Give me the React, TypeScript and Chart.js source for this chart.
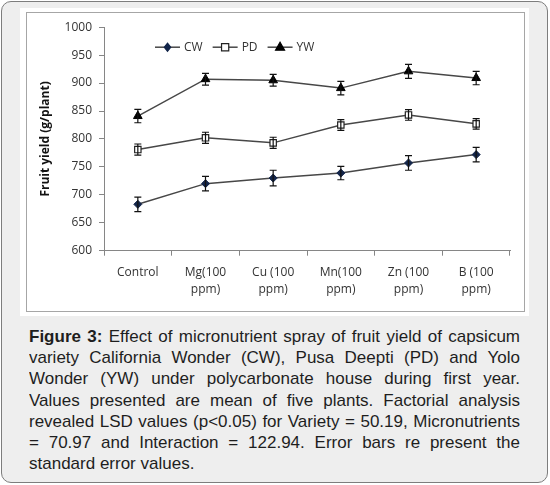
import React, { useEffect, useLayoutEffect, useRef } from "react";
import { Chart, registerables } from "chart.js";

Chart.register(...registerables);

const categories: string[][] = [
  ["Control"],
  ["Mg(100", "ppm)"],
  ["Cu (100", "ppm)"],
  ["Mn(100", "ppm)"],
  ["Zn (100", "ppm)"],
  ["B (100", "ppm)"],
];
const cwValues = [683, 720, 730, 739, 757, 772];
const pdValues = [781, 802, 793, 825, 843, 827];
const ywValues = [841, 907, 905, 891, 921, 909];
const cwErr = [13, 13, 14, 12, 13, 13];
const pdErr = [10, 10, 10, 9.5, 9.5, 9.5];
const ywErr = [12, 10.5, 10.5, 12, 12.5, 12];
const seriesNames = ["CW", "PD", "YW"];
const yMin = 600;
const yMax = 1000;
const yStep = 50;
const yTitle = "Fruit yield (g/plant)";

const captionLines = [
  "Effect of micronutrient spray of fruit yield of capsicum",
  "variety California Wonder (CW), Pusa Deepti (PD) and Yolo",
  "Wonder (YW) under polycarbonate house during first year.",
  "Values presented are mean of five plants. Factorial analysis",
  "revealed LSD values (p<0.05) for Variety = 50.19, Micronutrients",
  "= 70.97 and Interaction = 122.94. Error bars re present the",
  "standard error values.",
];

const FONT = "'Open Sans', 'DejaVu Sans', sans-serif";
const LINE = "#474747";
const errors = [cwErr, pdErr, ywErr];

const errorBarPlugin = {
  id: "errorBars",
  afterDatasetsDraw(chart: any) {
    const ctx = chart.ctx;
    const y = chart.scales.y;
    ctx.save();
    ctx.strokeStyle = "#111";
    ctx.lineWidth = 1.2;
    chart.data.datasets.forEach((ds: any, di: number) => {
      const meta = chart.getDatasetMeta(di);
      meta.data.forEach((pt: any, i: number) => {
        const v = ds.data[i];
        const e = errors[di][i];
        const top = y.getPixelForValue(v + e);
        const bot = y.getPixelForValue(v - e);
        const x = pt.x;
        ctx.beginPath();
        ctx.moveTo(x, top);
        ctx.lineTo(x, bot);
        ctx.moveTo(x - 3.5, top);
        ctx.lineTo(x + 3.5, top);
        ctx.moveTo(x - 3.5, bot);
        ctx.lineTo(x + 3.5, bot);
        ctx.stroke();
      });
    });
    ctx.restore();
  },
};

const legendPlugin = {
  id: "inlineLegend",
  afterDraw(chart: any) {
    const ctx = chart.ctx;
    const area = chart.chartArea;
    let x = area.left + 51;
    const y = area.top + 20;
    ctx.save();
    ctx.font = `12px ${FONT}`;
    ctx.textBaseline = "middle";
    ctx.fillStyle = "#333";
    chart.data.datasets.forEach((ds: any) => {
      const lineLen = 25;
      ctx.strokeStyle = LINE;
      ctx.lineWidth = 1.5;
      ctx.beginPath();
      ctx.moveTo(x, y);
      ctx.lineTo(x + lineLen, y);
      ctx.stroke();
      const cx = x + lineLen / 2;
      ctx.fillStyle = ds.pointBackgroundColor;
      ctx.strokeStyle = ds.pointBorderColor;
      ctx.lineWidth = 1.2;
      ctx.beginPath();
      const r = ds.pointRadius;
      if (ds.pointStyle === "rectRot") {
        ctx.moveTo(cx, y - r);
        ctx.lineTo(cx + r * 0.8, y);
        ctx.lineTo(cx, y + r);
        ctx.lineTo(cx - r * 0.8, y);
        ctx.closePath();
      } else if (ds.pointStyle === "rect") {
        ctx.rect(cx - r * 0.8, y - r * 0.8, r * 1.6, r * 1.6);
      } else {
        ctx.moveTo(cx, y - r);
        ctx.lineTo(cx + r * 0.9, y + r * 0.6);
        ctx.lineTo(cx - r * 0.9, y + r * 0.6);
        ctx.closePath();
      }
      ctx.fill();
      ctx.stroke();
      ctx.fillStyle = "#333";
      const tx = x + lineLen + 4;
      ctx.fillText(ds.label, tx, y);
      x = tx + ctx.measureText(ds.label).width + 10;
    });
    ctx.restore();
  },
};

function ChartBox() {
  const ref = useRef<HTMLCanvasElement>(null);
  useEffect(() => {
    if (!ref.current) return;
    const chart = new Chart(ref.current, {
      type: "line",
      data: {
        labels: categories,
        datasets: [
          {
            label: seriesNames[0],
            data: cwValues,
            borderColor: LINE,
            borderWidth: 1.5,
            pointStyle: "rectRot",
            pointRadius: 4,
            pointBackgroundColor: "#13254a",
            pointBorderColor: "#13254a",
            pointBorderWidth: 1,
            tension: 0,
          },
          {
            label: seriesNames[1],
            data: pdValues,
            borderColor: LINE,
            borderWidth: 1.5,
            pointStyle: "rect",
            pointRadius: 4.5,
            pointBackgroundColor: "#ffffff",
            pointBorderColor: "#222",
            pointBorderWidth: 1.2,
            tension: 0,
          },
          {
            label: seriesNames[2],
            data: ywValues,
            borderColor: LINE,
            borderWidth: 1.5,
            pointStyle: "triangle",
            pointRadius: 5,
            pointBackgroundColor: "#000",
            pointBorderColor: "#000",
            pointBorderWidth: 1,
            tension: 0,
          },
        ] as any,
      },
      options: {
        animation: false,
        responsive: false,
        events: [],
        layout: { padding: { left: 0, top: 14, right: 14, bottom: 0 } },
        plugins: { legend: { display: false }, tooltip: { enabled: false } },
        scales: {
          x: {
            type: "category",
            offset: true,
            grid: {
              display: true,
              drawOnChartArea: false,
              drawTicks: true,
              tickLength: 5,
              color: "#868686",
              offset: true,
            },
            border: { display: true, color: "#868686", width: 1 },
            ticks: {
              font: { family: FONT, size: 12, lineHeight: 1.42 },
              color: "#333",
              padding: 8,
              maxRotation: 0,
              autoSkip: false,
            },
            afterFit: (s: any) => {
              s.height = 60.3;
            },
          },
          y: {
            min: yMin,
            max: yMax,
            grid: {
              display: true,
              drawOnChartArea: false,
              drawTicks: true,
              tickLength: 5,
              color: "#868686",
            },
            border: { display: true, color: "#868686", width: 1 },
            ticks: {
              stepSize: yStep,
              font: { family: FONT, size: 12 },
              color: "#333",
              padding: 7,
              callback: (v: any) => String(v),
            },
            title: {
              display: true,
              text: yTitle,
              font: { family: FONT, size: 12, weight: "bold" },
              color: "#111",
              padding: { top: 11, bottom: 0 },
            },
            afterFit: (s: any) => {
              s.width = 77;
            },
          },
        },
      } as any,
      plugins: [errorBarPlugin, legendPlugin],
    });
    return () => chart.destroy();
  }, []);
  return <canvas ref={ref} width={497} height={298} style={{ display: "block" }} />;
}

function Caption() {
  const boxRef = useRef<HTMLDivElement>(null);
  const last = captionLines.length - 1;
  useLayoutEffect(() => {
    const box = boxRef.current;
    if (!box) return;
    Array.from(box.children).forEach((el: any) => {
      const over = el.scrollWidth - el.clientWidth;
      if (over > 0) {
        const n = (el.textContent || "").length;
        el.style.letterSpacing = `${-(over + 1) / n}px`;
      }
    });
  }, []);
  return (
    <div
      ref={boxRef}
      style={{
        position: "absolute",
        left: 29,
        top: 326,
        width: 491,
        fontFamily: "'Liberation Sans', Arial, sans-serif",
        fontSize: 17,
        lineHeight: "21.2px",
        color: "#1e1e1e",
      }}
    >
      {captionLines.map((t, i) => (
        <div
          key={i}
          style={{
            whiteSpace: "nowrap",
            overflow: "hidden",
            textAlign: i === last ? "left" : "justify",
            textAlignLast: i === last ? "left" : "justify",
          }}
        >
          {i === 0 ? (
            <>
              <b>Figure 3:</b> {t}
            </>
          ) : (
            t
          )}
        </div>
      ))}
    </div>
  );
}

export default function App() {
  return (
    <div style={{ position: "absolute", left: 0, top: 0, width: 550, height: 485, background: "#fff" }}>
      <div
        style={{
          position: "absolute",
          left: 1,
          top: 1,
          width: 545,
          height: 480,
          border: "1px solid #7d7d7d",
          borderRadius: 10,
          background: "#eeeeee",
        }}
      />
      <div style={{ position: "absolute", left: 20, top: 8, width: 509, height: 308, background: "#fff" }} />
      <div
        style={{
          position: "absolute",
          left: 26,
          top: 12,
          width: 497,
          height: 298,
          border: "1px solid #a6a6a6",
          background: "#fff",
        }}
      >
        <ChartBox />
      </div>
      <Caption />
    </div>
  );
}
